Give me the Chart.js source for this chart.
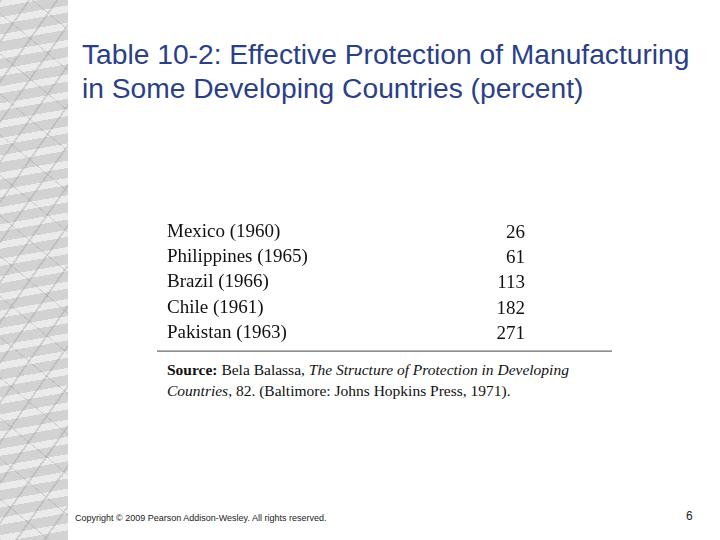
<!DOCTYPE html>
<html>
<head>
<meta charset="utf-8">
<script src="https://cdn.jsdelivr.net/npm/chart.js@4"></script>
<style>
  body { margin: 0; width: 720px; height: 540px; position: relative; background: #fff; overflow: hidden; font-family: Arial, "Liberation Sans", sans-serif; }
  .marble { position: absolute; left: 0; top: 0; width: 68px; height: 540px;
    background:
      repeating-linear-gradient(125deg, rgba(150,150,150,0.3) 0 2px, transparent 2px 23px),
      repeating-linear-gradient(40deg, rgba(120,120,120,0.2) 0 1px, transparent 1px 31px),
      repeating-linear-gradient(170deg, rgba(255,255,255,0.55) 0 7px, transparent 7px 17px),
      #d2d2d2; }
  .title { position: absolute; left: 82px; top: 37px; font-size: 28.2px; line-height: 34px; color: #2a3f88; }
  .chart-box { position: absolute; left: 157px; top: 208px; width: 455px; height: 149px; }
  .source { position: absolute; left: 167px; top: 359px; font-family: "Liberation Serif", serif; font-size: 15.5px; line-height: 21px; color: #111; }
  .foot { position: absolute; left: 75px; top: 513px; font-size: 9px; color: #222; }
  .page { position: absolute; left: 686px; top: 509px; font-size: 12px; color: #222; }
</style>
</head>
<body>
<div class="marble"></div>
<div class="title">Table 10-2: Effective Protection of Manufacturing<br>in Some Developing Countries (percent)</div>
<div class="chart-box"><canvas id="tbl"></canvas></div>
<div class="source"><b>Source:</b> Bela Balassa, <i>The Structure of Protection in Developing<br>Countries</i>, 82. (Baltimore: Johns Hopkins Press, 1971).</div>
<div class="foot">Copyright © 2009 Pearson Addison-Wesley. All rights reserved.</div>
<div class="page">6</div>
<script>
const countries = ['Mexico (1960)', 'Philippines (1965)', 'Brazil (1966)', 'Chile (1961)', 'Pakistan (1963)'];
const protection = [26, 61, 113, 182, 271];

const valueText = {
  id: 'valueText',
  afterDraw(chart) {
    const { ctx, chartArea, scales } = chart;
    ctx.save();
    ctx.font = '19px "Liberation Serif", serif';
    ctx.fillStyle = '#111';
    ctx.textAlign = 'right';
    ctx.textBaseline = 'middle';
    protection.forEach((v, i) => {
      ctx.fillText(String(v), chartArea.right - 87, scales.y.getPixelForValue(i) + 1);
    });
    ctx.strokeStyle = '#444';
    ctx.lineWidth = 1;
    ctx.beginPath();
    ctx.moveTo(0, chartArea.bottom + 5.5);
    ctx.lineTo(chart.width, chartArea.bottom + 5.5);
    ctx.stroke();
    ctx.restore();
  }
};

new Chart(document.getElementById('tbl'), {
  type: 'bar',
  data: { labels: countries, datasets: [{ data: protection, backgroundColor: 'transparent' }] },
  options: {
    indexAxis: 'y',
    responsive: true,
    maintainAspectRatio: false,
    animation: false,
    layout: { padding: { left: 10, top: 0, bottom: 6, right: 0 } },
    plugins: { legend: { display: false }, tooltip: { enabled: false } },
    scales: {
      x: { display: false, min: 0, max: 300 },
      y: {
        grid: { display: false },
        border: { display: false },
        ticks: {
          crossAlign: 'far',
          padding: 0,
          color: '#111',
          font: { family: '"Liberation Serif", serif', size: 19 }
        }
      }
    }
  },
  plugins: [valueText]
});
</script>
</body>
</html>
